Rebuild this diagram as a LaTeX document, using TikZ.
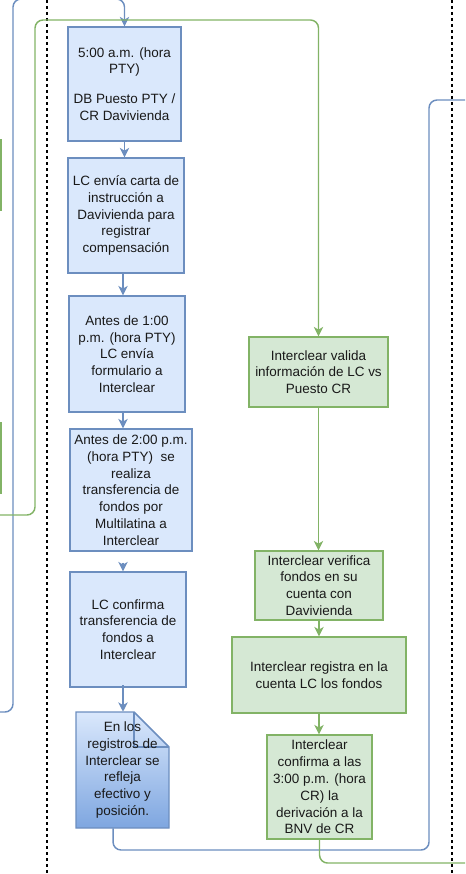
\documentclass[tikz,border=0pt]{standalone}
\usepackage{xcolor}
\usepackage{fontspec}
\setmainfont{Liberation Sans}
\usepackage{tikz}
\usetikzlibrary{arrows.meta}

\definecolor{bluefill}{HTML}{DAE8FC}
\definecolor{blueline}{HTML}{6C8EBF}
\definecolor{bluedark}{HTML}{7EA6E0}
\definecolor{greenfill}{HTML}{D5E8D4}
\definecolor{greenline}{HTML}{82B366}

\begin{document}
\begin{tikzpicture}[x=0.75pt,y=0.75pt,yscale=-1,xscale=1,
    boxtext/.style={align=center,inner sep=0pt,text=black!90,font=\fontsize{10.1}{12.6}\selectfont},
    bluebox/.style={boxtext,draw=blueline,fill=bluefill,line width=1.1pt},
    greenbox/.style={boxtext,draw=greenline,fill=greenfill,line width=1.1pt},
    blueflow/.style={draw=blueline,line width=1.1pt,rounded corners=6pt},
    greenflow/.style={draw=greenline,line width=1.1pt,rounded corners=6pt},
    tip/.style={-{Stealth[length=7pt,width=7pt,inset=2pt]}},
    lanesep/.style={draw=black,line width=1pt,dash pattern=on 2.25pt off 2.25pt}]
        \useasboundingbox (0,0) rectangle (465,874);
        \clip (0,0) rectangle (465,874);

        % lane separators
        \draw[lanesep] (47,0) -- (47,874);
        \draw[lanesep] (452,0) -- (452,874);

        % boxes cut off at the left edge
        \draw[greenbox] (-60,140) rectangle (1,210);
        \draw[greenbox] (-60,423) rectangle (1,493);

        % blue lane
        \node (b1) at (124.5,84) [bluebox,minimum width=84.75pt,minimum height=85.5pt] {5:00 a.m. (hora\\PTY)\\[9.75pt]DB Puesto PTY /\\CR Davivienda};
        \node (b2) at (126,215.5) [bluebox,minimum width=87pt,minimum height=86.25pt] {LC envía carta de\\instrucción a\\Davivienda para\\registrar\\compensación};
        \node (b3) at (127,354) [bluebox,minimum width=87pt,minimum height=87pt] {Antes de 1:00\\p.m. (hora PTY)\\LC envía\\formulario a\\Interclear};
        \node (b4) at (131,490) [bluebox,minimum width=91.5pt,minimum height=91.5pt] {Antes de 2:00 p.m.\\(hora PTY)~~se\\realiza\\transferencia de\\fondos por\\Multilatina a\\Interclear};
        \node (b5) at (128,629.5) [bluebox,minimum width=87pt,minimum height=86.25pt] {LC confirma\\transferencia de\\fondos a\\Interclear};

        % document shape
        \path[top color=bluefill,bottom color=bluedark] (76,712) -- (134,712) -- (169,747) -- (169,828) -- (76,828) -- cycle;
        \draw[blueline,line width=1.1pt] (76,712) -- (134,712) -- (169,747) -- (169,828) -- (76,828) -- cycle;
        \draw[blueline,line width=1.1pt] (134,712) -- (134,747) -- (169,747);
        \node (doc) at (122.5,770) [boxtext,minimum width=69.75pt,minimum height=87pt] {En los\\registros de\\Interclear se\\refleja\\efectivo y\\posición.};

        % green lane
        \node (g1) at (318.5,372) [greenbox,minimum width=104.25pt,minimum height=52.5pt] {Interclear valida\\información de LC vs\\Puesto CR};
        \node (g2) at (319,585.5) [greenbox,minimum width=96pt,minimum height=51.75pt] {Interclear verifica\\fondos en su\\cuenta con\\Davivienda};
        \node (g3) at (319,675) [greenbox,minimum width=130.5pt,minimum height=57pt] {Interclear registra en la\\cuenta LC los fondos};
        \node (g4) at (319.5,787) [greenbox,minimum width=78.75pt,minimum height=78pt] {Interclear\\confirma a las\\3:00 p.m. (hora\\CR) la\\derivación a la\\BNV de CR};

        \coordinate (col) at (123,0);

        % blue arrows
        \draw[blueflow,tip] (-20,712) -| (13,-1) -| (b1.north);
        \draw[blueflow,tip] (b1.south) -- (b1.south |- b2.north);
        \draw[blueflow,tip] (col |- b2.south) -- (col |- b3.north);
        \draw[blueflow,tip] (col |- b3.south) -- (col |- b4.north);
        \draw[blueflow,tip] ([yshift=8.25pt]col |- b4.south) -- (col |- b5.north);
        \draw[blueflow,tip] ([yshift=-2pt]col |- b5.south) -- (col |- doc.north);
        \draw[blueflow] ([xshift=-7.1pt]doc.south) |- (429,850) |- (475,100);

        % green arrows
        \draw[greenflow,tip] (-20,515) -| (35,20) -| (g1.north);
        \draw[greenflow,tip] (g1.south) -- (g1.south |- g2.north);
        \draw[greenflow,tip] (g2.south) -- (g2.south |- g3.north);
        \draw[greenflow,tip] (g3.south) -- (g3.south |- g4.north);
        \draw[greenflow] (g4.south) |- (475,863);
    \end{tikzpicture}
\end{document}
